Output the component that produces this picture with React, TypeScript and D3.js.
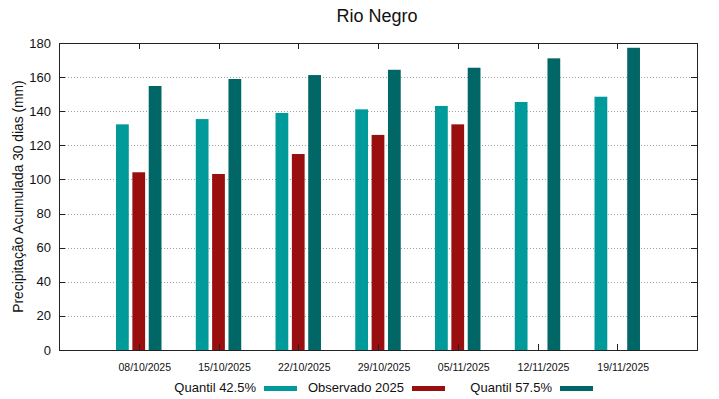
import React from "react";
import * as d3 from "d3";

const categories = ["08/10/2025", "15/10/2025", "22/10/2025", "29/10/2025", "05/11/2025", "12/11/2025", "19/11/2025"];
const q425 = [132.3, 135.4, 139.0, 141.1, 143.1, 145.4, 148.5];
const observado: (number | null)[] = [104.2, 103.2, 114.9, 126.1, 132.3, null, null];
const q575 = [154.8, 158.9, 161.2, 164.3, 165.5, 171.0, 177.2];
const yTicks = [0, 20, 40, 60, 80, 100, 120, 140, 160, 180];

const C1 = "#009a9a";
const C2 = "#990f0f";
const C3 = "#006666";

const W = 719, H = 399;
const L = 59, R = 697, T = 43, B = 350;

export default function App() {
  const x = d3.scaleLinear().domain([-1, 7]).range([L, R]);
  const y = d3.scaleLinear().domain([0, 180]).range([B, T]);
  const bw = x(0.16) - x(0);
  const series = [
    { vals: q425 as (number | null)[], off: -0.205, color: C1 },
    { vals: observado, off: 0, color: C2 },
    { vals: q575 as (number | null)[], off: 0.205, color: C3 },
  ];
  const font = "'Liberation Sans', Arial, sans-serif";
  const legend = [
    { label: "Quantil 42.5%", color: C1, end: 256, sx: 264 },
    { label: "Observado 2025", color: C2, end: 404, sx: 412 },
    { label: "Quantil 57.5%", color: C3, end: 552, sx: 560 },
  ];
  return (
    <svg width={W} height={H} style={{ position: "absolute", left: 0, top: 0, background: "#fff" }} fontFamily={font}>
      <rect x={0} y={0} width={W} height={H} fill="#fff" />
      {yTicks.slice(1, -1).map((t) => (
        <line key={"g" + t} x1={L} x2={R} y1={Math.round(y(t)) + 0.5} y2={Math.round(y(t)) + 0.5}
          stroke="#a0a0a0" strokeWidth={1} strokeDasharray="1,2" />
      ))}
      {series.map((s, si) =>
        s.vals.map((v, i) =>
          v == null ? null : (
            <rect key={si + "-" + i} x={x(i + s.off) - bw / 2} y={y(v)} width={bw} height={y(0) - y(v)} fill={s.color} />
          )
        )
      )}
      <rect x={L + 0.5} y={T + 0.5} width={R - L} height={B - T} fill="none" stroke="#222" strokeWidth={1} />
      {yTicks.map((t) => (
        <g key={"yt" + t}>
          <line x1={L} x2={L + 6} y1={Math.round(y(t)) + 0.5} y2={Math.round(y(t)) + 0.5} stroke="#222" />
          <line x1={R - 6} x2={R} y1={Math.round(y(t)) + 0.5} y2={Math.round(y(t)) + 0.5} stroke="#222" />
          <text x={L - 8} y={y(t) + 4.5} textAnchor="end" fontSize={13} fill="#111">{t}</text>
        </g>
      ))}
      {categories.map((c, i) => (
        <g key={c}>
          <line x1={Math.round(x(i)) + 0.5} x2={Math.round(x(i)) + 0.5} y1={B} y2={B - 6} stroke="#222" />
          <line x1={Math.round(x(i)) + 0.5} x2={Math.round(x(i)) + 0.5} y1={T} y2={T + 6} stroke="#222" />
          <text x={x(i) + 6} y={371} textAnchor="middle" fontSize={10.5} fill="#111">{c}</text>
        </g>
      ))}
      <text x={377} y={22} textAnchor="middle" fontSize={18} fill="#111">Rio Negro</text>
      <text transform={`translate(23,${(T + B) / 2}) rotate(-90)`} textAnchor="middle" fontSize={13.8} fill="#111">
        Precipitação Acumulada 30 dias (mm)
      </text>
      {legend.map((l) => (
        <g key={l.label}>
          <text x={l.end} y={392} textAnchor="end" fontSize={13} fill="#111">{l.label}</text>
          <rect x={l.sx} y={386} width={33} height={5} fill={l.color} />
        </g>
      ))}
    </svg>
  );
}
